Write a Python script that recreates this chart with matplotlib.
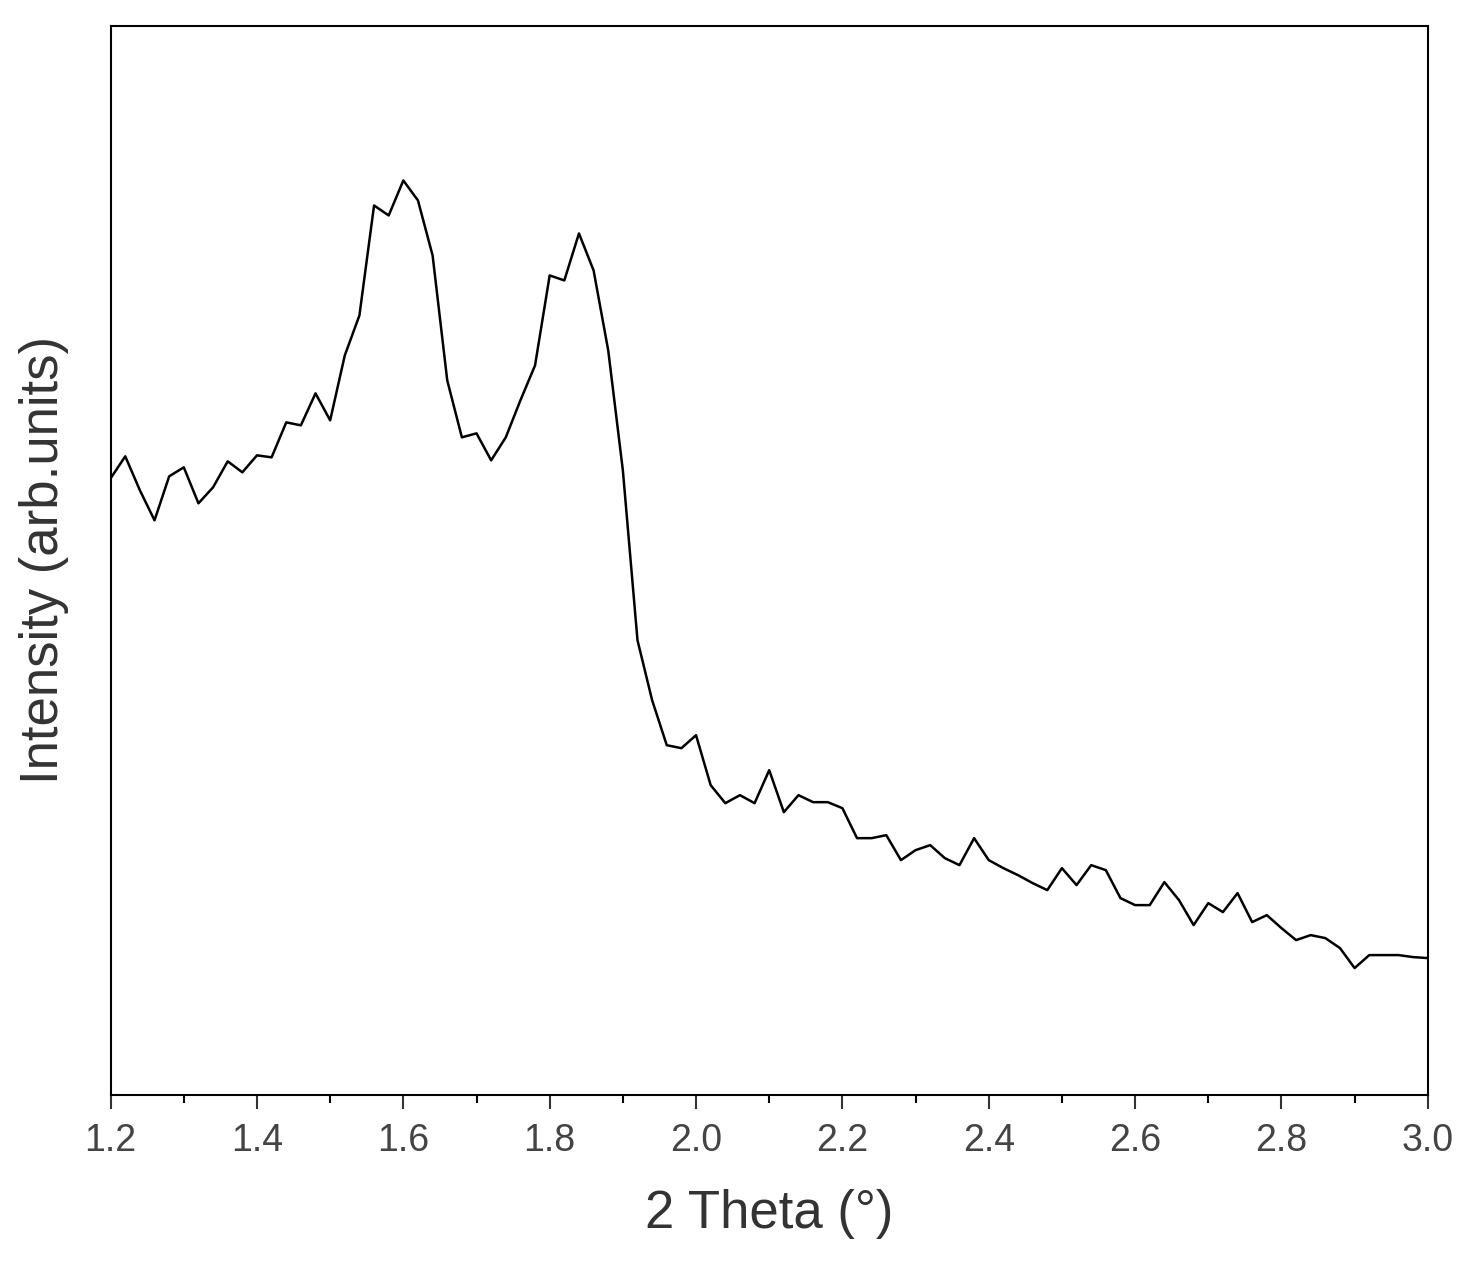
import numpy as np
import matplotlib
matplotlib.use("Agg")
import matplotlib.pyplot as plt
from matplotlib.ticker import MultipleLocator

# 2 theta values, step 0.02
two_theta = np.round(np.arange(1.20, 3.0001, 0.02), 2)

# intensity (arbitrary units)
intensity_px = [478, 456, 490, 520, 476, 467, 503, 487, 461, 472,
                455, 457, 422, 425, 393, 420, 355, 315, 205, 215,
                180, 200, 255, 380, 437, 433, 460, 437, 400, 365,
                275, 280, 233, 270, 350, 470, 640, 700, 745, 748,
                735, 785, 803, 795, 803, 770, 812, 795, 802, 802,
                808, 838, 838, 835, 860, 850, 845, 858, 865, 838,
                860, 868, 875, 883, 890, 868, 885, 865, 870, 898,
                905, 905, 882, 900, 925, 903, 912, 893, 922, 915,
                928, 940, 935, 938, 948, 968, 955, 955, 955, 957,
                958]
intensity = 1095 - np.array(intensity_px)

plt.rcParams['font.family'] = ['Liberation Sans', 'DejaVu Sans']

fig = plt.figure(figsize=(14.75, 12.77), dpi=100)
ax = fig.add_axes([0.075, 0.1425, 0.893, 0.8375])
ax.plot(two_theta, intensity, color="black", linewidth=1.8)

ax.set_xlim(1.2, 3.0)
ax.set_ylim(0, 1070)
ax.xaxis.set_major_locator(MultipleLocator(0.2))
ax.xaxis.set_minor_locator(MultipleLocator(0.1))
ax.xaxis.set_major_formatter(plt.FuncFormatter(lambda v, p: f"{v:.1f}"))
ax.set_yticks([])
ax.tick_params(axis="x", which="major", direction="out", length=10, width=1.5,
               labelsize=27, colors="#333333", labelcolor="#444444", pad=10)
ax.tick_params(axis="x", which="minor", direction="out", length=6, width=1.5)
for s in ax.spines.values():
    s.set_linewidth(1.5)

ax.set_xlabel("2 Theta (°)", fontsize=38, color="#333333", labelpad=22)
ax.set_ylabel("Intensity (arb.units)", fontsize=38, color="#333333", labelpad=30)

fig.savefig("out.png", dpi=100)
